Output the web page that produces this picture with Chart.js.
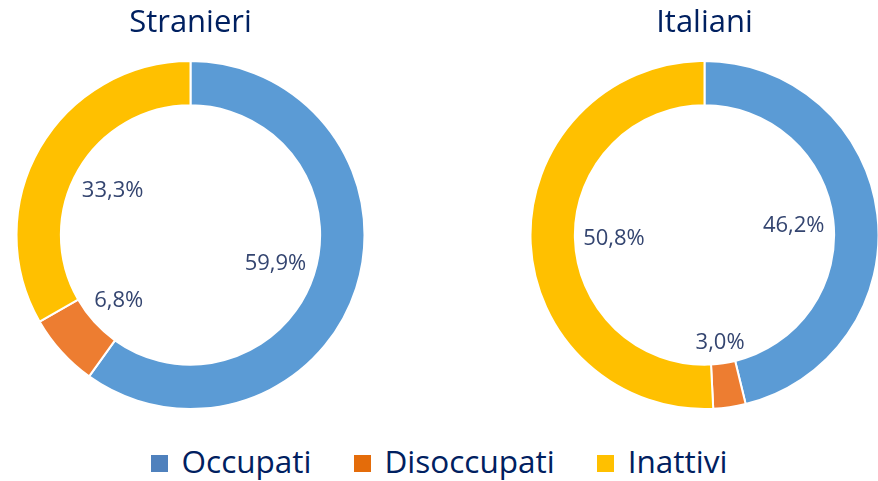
<!DOCTYPE html>
<html>
<head>
<meta charset="utf-8">
<script src="https://cdn.jsdelivr.net/npm/chart.js@4"></script>
<style>
  html, body { margin: 0; padding: 0; background: #fff; overflow: hidden; }
  body { width: 878px; height: 481px; position: relative; font-family: "Open Sans", sans-serif; }
  .wrap { position: absolute; top: 0; height: 410px; }
  #legend {
    position: absolute; left: 0; width: 878px; top: 439px;
    display: flex; justify-content: center; align-items: center;
    font-size: 31.5px; color: #002060; line-height: 44px;
  }
  #legend .item { display: flex; align-items: center; margin: 0 21px; }
  #legend .box { width: 17px; height: 17px; margin-right: 14px; margin-top: 4px; }
</style>
</head>
<body>
<div class="wrap" style="left:15px;width:351px"><canvas id="chartStranieri"></canvas></div>
<div class="wrap" style="left:529px;width:351px"><canvas id="chartItaliani"></canvas></div>
<div id="legend"></div>
<script>
// Data
const categories = ["Occupati", "Disoccupati", "Inattivi"];
const stranieri = [59.9, 6.8, 33.3];
const italiani = [46.2, 3.0, 50.8];
const chartTitles = ["Stranieri", "Italiani"];

const sliceColors = ["#5B9BD5", "#ED7D31", "#FFC000"];
const legendColors = ["#4F81BD", "#E46C0A", "#FFC000"];
const labelColor = "#344570";

// labels drawn inside the hole, pushed against the inner edge
const innerLabels = {
  id: "innerLabels",
  afterDatasetsDraw(chart) {
    const ctx = chart.ctx;
    const meta = chart.getDatasetMeta(0);
    const values = chart.data.datasets[0].data;
    ctx.save();
    ctx.font = "22px 'Open Sans'";
    ctx.fillStyle = labelColor;
    ctx.textAlign = "center";
    ctx.textBaseline = "middle";
    meta.data.forEach((arc, i) => {
      const { x, y, startAngle, endAngle, innerRadius } = arc.getProps(
        ["x", "y", "startAngle", "endAngle", "innerRadius"], true);
      const mid = (startAngle + endAngle) / 2;
      const text = values[i].toFixed(1).replace(".", ",") + "%";
      const hw = ctx.measureText(text).width / 2;
      const hh = 10;
      const d = innerRadius - 8 - (Math.abs(Math.cos(mid)) * hw + Math.abs(Math.sin(mid)) * hh);
      ctx.fillText(text, x + Math.cos(mid) * d, y + Math.sin(mid) * d + 1);
    });
    ctx.restore();
  },
};

const makeDonut = (id, title, values) => {
  const ctx = document.getElementById(id).getContext("2d");
  return new Chart(ctx, {
    type: "doughnut",
    data: {
      labels: categories,
      datasets: [
        {
          data: values,
          backgroundColor: sliceColors,
          borderColor: "#ffffff",
          borderWidth: 2,
        },
      ],
    },
    options: {
      responsive: true,
      maintainAspectRatio: false,
      animation: false,
      cutout: "74.5%",
      layout: { padding: 0 },
      plugins: {
        legend: { display: false },
        tooltip: { enabled: false },
        title: {
          display: true,
          text: title,
          color: "#002060",
          font: { family: "'Open Sans'", size: 31, weight: "normal", lineHeight: 1.2 },
          padding: { top: 5, bottom: 17.8 },
        },
      },
    },
    plugins: [innerLabels],
  });
};

makeDonut("chartStranieri", chartTitles[0], stranieri);
makeDonut("chartItaliani", chartTitles[1], italiani);

// Legend
const legend = document.getElementById("legend");
categories.forEach((name, i) => {
  const item = document.createElement("div");
  item.className = "item";
  const box = document.createElement("span");
  box.className = "box";
  box.style.background = legendColors[i];
  const label = document.createElement("span");
  label.textContent = name;
  item.appendChild(box);
  item.appendChild(label);
  legend.appendChild(item);
});
</script>
</body>
</html>
